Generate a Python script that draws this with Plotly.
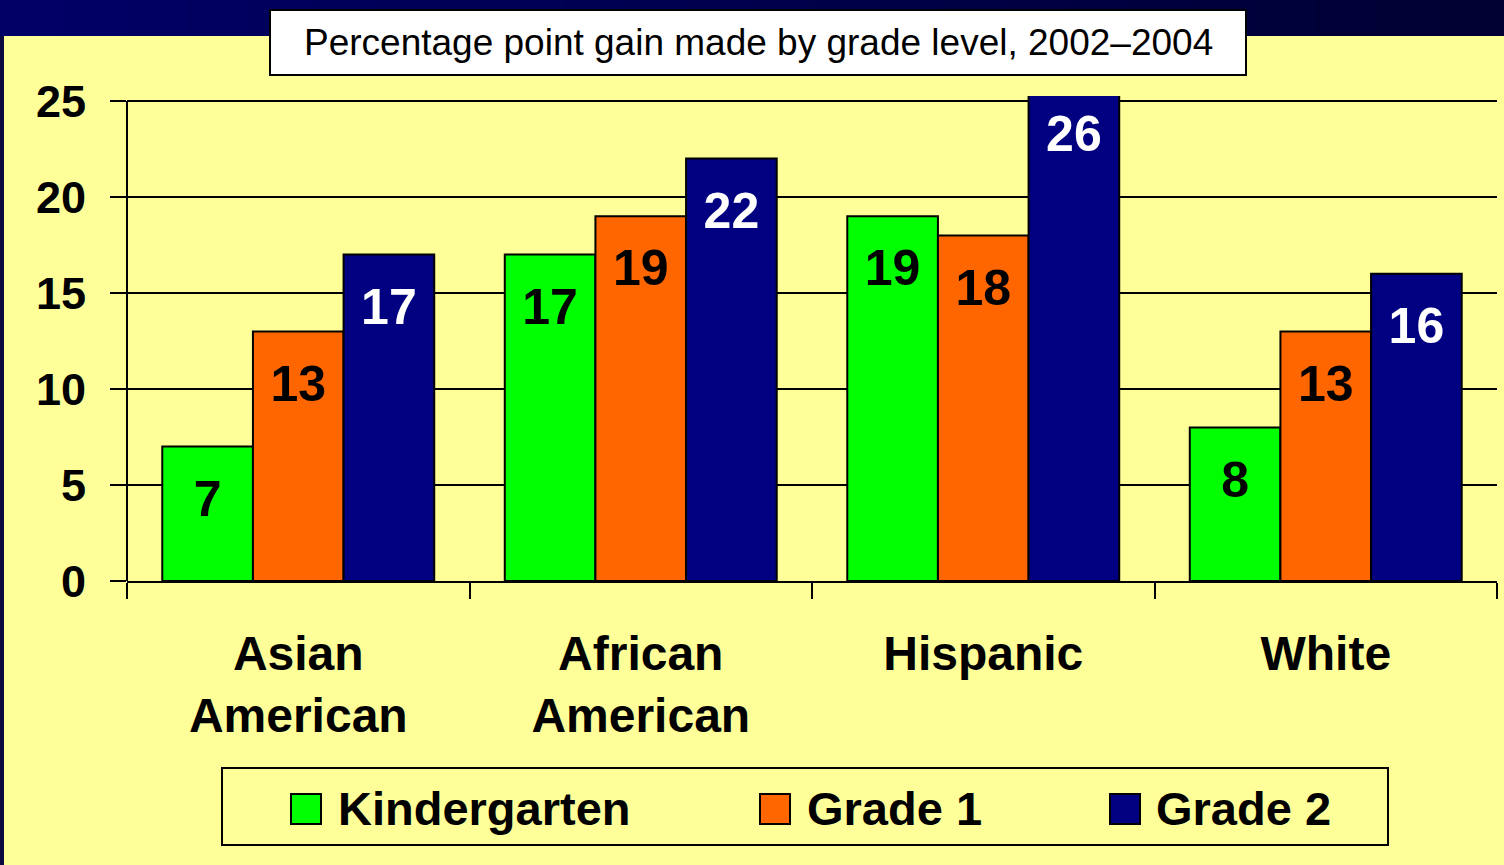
import plotly.graph_objects as go

# ---- data ----
categories = ["Asian<br>American", "African<br>American", "Hispanic", "White"]
series_names = ["Kindergarten", "Grade 1", "Grade 2"]
kindergarten = [7, 17, 19, 8]
grade1 = [13, 19, 18, 13]
grade2 = [17, 22, 26, 16]
y_ticks = [0, 5, 10, 15, 20, 25]
title_text = "Percentage point gain made by grade level, 2002\u20132004"

series_values = [kindergarten, grade1, grade2]
colors = ["#00FF00", "#FF6600", "#000080"]
label_colors = ["black", "black", "white"]

W, H = 1504, 865
L, R, T, B = 127, 7, 96, 284
PW, PH = W - L - R, H - T - B
FONT = "Liberation Sans, Arial, sans-serif"


def xp(px):
    return (px - L) / PW


def yp(py):
    return (H - B - py) / PH


fig = go.Figure()
for name, vals, col in zip(series_names, series_values, colors):
    fig.add_trace(go.Bar(
        x=categories, y=vals, name=name, offsetgroup=name,
        marker=dict(color=col, line=dict(color="black", width=2)),
        showlegend=False, hoverinfo="skip",
    ))
for name, vals, lc in zip(series_names, series_values, label_colors):
    fig.add_trace(go.Scatter(
        x=categories, y=[v - 2.95 for v in vals], mode="text",
        text=[str(v) for v in vals], offsetgroup=name,
        textfont=dict(family=FONT, size=50, color=lc, weight="bold"),
        showlegend=False, hoverinfo="skip", cliponaxis=False,
    ))

shapes = []
# navy band on top with gradient, and left strip
n = 24
for i in range(n):
    t = i / (n - 1)
    b = int(round(0x66 + (0x33 - 0x66) * t))
    shapes.append(dict(type="rect", xref="paper", yref="paper",
                       x0=xp(W * i / n), x1=xp(W * (i + 1) / n + 1),
                       y0=yp(36), y1=yp(0), fillcolor=f"rgb(0,0,{b})",
                       line=dict(width=0), layer="below"))
shapes.append(dict(type="rect", xref="paper", yref="paper",
                   x0=xp(0), x1=xp(4), y0=yp(H), y1=yp(36),
                   fillcolor="#0A0A40", line=dict(width=0), layer="below"))
# title box
shapes.append(dict(type="rect", xref="paper", yref="paper",
                   x0=xp(270), x1=xp(1246), y0=yp(75), y1=yp(10),
                   fillcolor="white", line=dict(color="black", width=2), layer="above"))
# y axis line
shapes.append(dict(type="line", xref="paper", yref="y", x0=0, x1=0, y0=0, y1=25,
                   line=dict(color="black", width=2)))
# legend box
shapes.append(dict(type="rect", xref="paper", yref="paper",
                   x0=xp(222), x1=xp(1388), y0=yp(845), y1=yp(768),
                   fillcolor="#FFFF99", line=dict(color="black", width=2)))
legend_marker_x = [291, 760, 1110]
legend_text_x = [336, 805, 1154]
annotations = [dict(text=title_text, xref="paper", yref="paper",
                    x=xp(758), y=yp(43), xanchor="center", yanchor="middle",
                    showarrow=False, font=dict(family=FONT, size=37, color="black"))]
for name, col, mx, tx in zip(series_names, colors, legend_marker_x, legend_text_x):
    shapes.append(dict(type="rect", xref="paper", yref="paper",
                       x0=xp(mx), x1=xp(mx + 30), y0=yp(824), y1=yp(794),
                       fillcolor=col, line=dict(color="black", width=2)))
    annotations.append(dict(text=name, xref="paper", yref="paper",
                            x=xp(tx), y=yp(808), xanchor="left", yanchor="middle",
                            showarrow=False,
                            font=dict(family=FONT, size=47, color="black", weight="bold")))

fig.update_layout(
    width=W, height=H,
    margin=dict(l=L, r=R, t=T, b=B),
    paper_bgcolor="#FFFF99", plot_bgcolor="#FFFF99",
    barmode="group", bargap=0.206, bargroupgap=0,
    scattermode="group", scattergap=0.206,
    shapes=shapes, annotations=annotations,
    xaxis=dict(
        type="category", showline=True, linecolor="black", linewidth=2,
        ticks="outside", tickson="boundaries", ticklen=16, tickwidth=2, tickcolor="black",
        tickfont=dict(family=FONT, size=48, color="black", weight="bold"),
        ticklabelstandoff=29, showgrid=False,
    ),
    yaxis=dict(
        range=[0, 25.26], tickvals=y_ticks, ticktext=[str(v) for v in y_ticks],
        showline=False, ticks="outside", ticklen=16, tickwidth=2, tickcolor="black",
        showgrid=True, gridcolor="black", gridwidth=2, zeroline=False,
        tickfont=dict(family=FONT, size=45, color="black", weight="bold"),
        ticklabelstandoff=15,
    ),
)

fig.write_html(
    "out.html",
    config={"displayModeBar": False},
    post_script="document.body.style.margin='0';document.body.style.padding='0';",
)
